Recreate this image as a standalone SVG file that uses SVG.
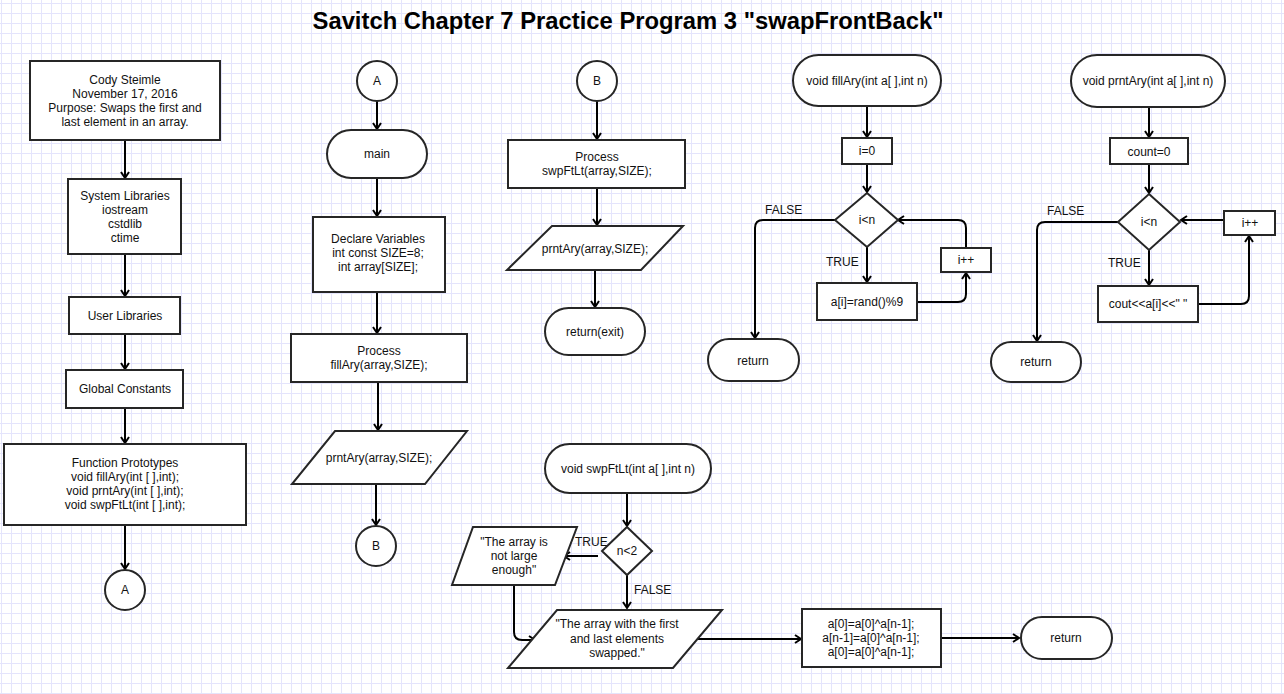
<svg xmlns="http://www.w3.org/2000/svg" width="1284" height="694" viewBox="0 0 1284 694">
<defs>
<pattern id="grid" patternUnits="userSpaceOnUse" x="1" y="3" width="10" height="10">
<rect x="0" y="0" width="10" height="1" fill="#e4e4fc"/>
<rect x="0" y="0" width="1" height="10" fill="#e4e4fc"/>
</pattern>
<marker id="arr" viewBox="0 0 10 10" refX="8" refY="5" markerWidth="10" markerHeight="10" markerUnits="userSpaceOnUse" orient="auto">
<path d="M2,1 L8,5 L2,9" fill="none" stroke="#000" stroke-width="2"/>
</marker>
<style>
.s{fill:#fff;stroke:#262626;stroke-width:2}
.t{font-family:"Liberation Sans",Arial,sans-serif;font-size:12px;fill:#111;text-anchor:middle}
.l{font-family:"Liberation Sans",Arial,sans-serif;font-size:12px;fill:#111}
.c{fill:none;stroke:#000;stroke-width:2;marker-end:url(#arr)}
</style>
</defs>
<rect width="1284" height="694" fill="#fff"/>
<rect width="1284" height="694" fill="url(#grid)"/>
<text x="628" y="29" font-family="Liberation Sans,Arial,sans-serif" font-size="23.8" font-weight="bold" text-anchor="middle" fill="#000">Savitch Chapter 7 Practice Program 3 "swapFrontBack"</text>

<g id="connectors">
<path class="c" d="M125,140 V178"/>
<path class="c" d="M125,254 V296"/>
<path class="c" d="M125,334 V369"/>
<path class="c" d="M125,408 V443"/>
<path class="c" d="M125,525 V569"/>
<path class="c" d="M377,101 V129"/>
<path class="c" d="M377,178 V216"/>
<path class="c" d="M377,292 V333"/>
<path class="c" d="M378,382 V430"/>
<path class="c" d="M376,484 V525"/>
<path class="c" d="M597,101 V139"/>
<path class="c" d="M597,188 V225"/>
<path class="c" d="M595,270 V307"/>
<path class="c" d="M867,106 V137"/>
<path class="c" d="M867,164 V192"/>
<path class="c" d="M867,247 V282"/>
<path class="c" d="M835,220 H763 Q755,220 755,228 V338"/>
<path class="c" d="M917,302 H958 Q966,302 966,294 V273"/>
<path class="c" d="M966,248 V228 Q966,220 958,220 H898"/>
<path class="c" d="M1149,107 V137"/>
<path class="c" d="M1149,164 V193"/>
<path class="c" d="M1149,250 V285"/>
<path class="c" d="M1118,222 H1045 Q1037,222 1037,230 V341"/>
<path class="c" d="M1198,304 H1241 Q1249,304 1249,296 V236"/>
<path class="c" d="M1224,220 H1181"/>
<path class="c" d="M627,493 V526"/>
<path class="c" d="M598,556 H564"/>
<path class="c" d="M627,575 V608"/>
<path class="c" d="M514,585 V632 Q514,640 522,640 H535"/>
<path class="c" d="M698,639 H801"/>
<path class="c" d="M941,638 H1019"/>
<text class="l" x="765" y="214">FALSE</text>
<text class="l" x="826" y="266">TRUE</text>
<text class="l" x="1047" y="215">FALSE</text>
<text class="l" x="1108" y="267">TRUE</text>
<text class="l" x="575" y="546">TRUE</text>
<text class="l" x="634" y="594">FALSE</text>
</g>

<g id="header">
<rect class="s" x="30" y="61" width="190" height="79"/>
<text class="t" x="125" y="84">Cody Steimle</text>
<text class="t" x="125" y="98">November 17, 2016</text>
<text class="t" x="125" y="112">Purpose: Swaps the first and</text>
<text class="t" x="125" y="126">last element in an array.</text>
</g>
<g id="syslib">
<rect class="s" x="68" y="179" width="113" height="75"/>
<text class="t" x="125" y="200">System Libraries</text>
<text class="t" x="125" y="214">iostream</text>
<text class="t" x="125" y="228">cstdlib</text>
<text class="t" x="125" y="242">ctime</text>
</g>
<g id="userlib">
<rect class="s" x="69" y="297" width="111" height="37"/>
<text class="t" x="125" y="320">User Libraries</text>
</g>
<g id="globals">
<rect class="s" x="66" y="370" width="117" height="38"/>
<text class="t" x="125" y="393">Global Constants</text>
</g>
<g id="protos">
<rect class="s" x="4" y="444" width="242" height="81"/>
<text class="t" x="125" y="467">Function Prototypes</text>
<text class="t" x="125" y="481">void fillAry(int [ ],int);</text>
<text class="t" x="125" y="495">void prntAry(int [ ],int);</text>
<text class="t" x="125" y="509">void swpFtLt(int [ ],int);</text>
</g>
<g id="A1">
<circle class="s" cx="125" cy="590" r="20"/>
<text class="t" x="125" y="594">A</text>
</g>

<g id="A2">
<circle class="s" cx="377" cy="81" r="20"/>
<text class="t" x="377" y="85">A</text>
</g>
<g id="main">
<rect class="s" x="327" y="130" width="100" height="48" rx="24"/>
<text class="t" x="377" y="158">main</text>
</g>
<g id="declare">
<rect class="s" x="313" y="217" width="132" height="75"/>
<text class="t" x="378" y="243">Declare Variables</text>
<text class="t" x="378" y="257">int const SIZE=8;</text>
<text class="t" x="378" y="271">int array[SIZE];</text>
</g>
<g id="procFill">
<rect class="s" x="291" y="334" width="176" height="48"/>
<text class="t" x="379" y="355">Process</text>
<text class="t" x="379" y="369">fillAry(array,SIZE);</text>
</g>
<g id="print1">
<polygon class="s" points="335,431 467,431 425,484 292,484"/>
<text class="t" x="379" y="462">prntAry(array,SIZE);</text>
</g>
<g id="B1">
<circle class="s" cx="376" cy="546" r="20"/>
<text class="t" x="376" y="550">B</text>
</g>

<g id="B2">
<circle class="s" cx="597" cy="81" r="20"/>
<text class="t" x="597" y="85">B</text>
</g>
<g id="procSwap">
<rect class="s" x="508" y="140" width="177" height="48"/>
<text class="t" x="597" y="161">Process</text>
<text class="t" x="597" y="175">swpFtLt(array,SIZE);</text>
</g>
<g id="print2">
<polygon class="s" points="552,226 683,226 641,270 507,270"/>
<text class="t" x="595" y="253">prntAry(array,SIZE);</text>
</g>
<g id="exit">
<rect class="s" x="545" y="308" width="100" height="47" rx="23.5"/>
<text class="t" x="595" y="336">return(exit)</text>
</g>

<g id="fillAry">
<rect class="s" x="793" y="55" width="148" height="51" rx="25.5"/>
<text class="t" x="867" y="85">void fillAry(int a[ ],int n)</text>
</g>
<g id="i0">
<rect class="s" x="842" y="138" width="50" height="26"/>
<text class="t" x="867" y="155">i=0</text>
</g>
<g id="cond1">
<polygon class="s" points="867,193 898,220 867,247 835,220"/>
<text class="t" x="867" y="224">i&lt;n</text>
</g>
<g id="rand">
<rect class="s" x="817" y="283" width="100" height="37"/>
<text class="t" x="867" y="306">a[i]=rand()%9</text>
</g>
<g id="inc1">
<rect class="s" x="941" y="248" width="50" height="24"/>
<text class="t" x="966" y="264">i++</text>
</g>
<g id="ret1">
<rect class="s" x="708" y="339" width="91" height="42" rx="21"/>
<text class="t" x="753" y="365">return</text>
</g>

<g id="prntAry">
<rect class="s" x="1071" y="55" width="154" height="52" rx="26"/>
<text class="t" x="1148" y="85">void prntAry(int a[ ],int n)</text>
</g>
<g id="count0">
<rect class="s" x="1110" y="138" width="78" height="26"/>
<text class="t" x="1149" y="156">count=0</text>
</g>
<g id="cond2">
<polygon class="s" points="1149,194 1180,222 1149,250 1118,222"/>
<text class="t" x="1149" y="226">i&lt;n</text>
</g>
<g id="cout">
<rect class="s" x="1098" y="286" width="100" height="36"/>
<text class="t" x="1148" y="308">cout&lt;&lt;a[i]&lt;&lt;" "</text>
</g>
<g id="inc2">
<rect class="s" x="1224" y="211" width="51" height="24"/>
<text class="t" x="1250" y="227">i++</text>
</g>
<g id="ret2">
<rect class="s" x="991" y="342" width="90" height="40" rx="20"/>
<text class="t" x="1036" y="366">return</text>
</g>

<g id="swpFtLt">
<rect class="s" x="545" y="444" width="166" height="49" rx="24.5"/>
<text class="t" x="628" y="473">void swpFtLt(int a[ ],int n)</text>
</g>
<g id="cond3">
<polygon class="s" points="627,527 652,551 627,575 602,551"/>
<text class="t" x="627" y="555">n&lt;2</text>
</g>
<g id="small">
<polygon class="s" points="473,527 577,527 555,585 452,585"/>
<text class="t" x="514" y="546">"The array is</text>
<text class="t" x="514" y="560">not large</text>
<text class="t" x="514" y="574">enough"</text>
</g>
<g id="swapped">
<polygon class="s" points="557,610 722,610 673,668 508,668"/>
<text class="t" x="617" y="628">"The array with the first</text>
<text class="t" x="617" y="643">and last elements</text>
<text class="t" x="617" y="657">swapped."</text>
</g>
<g id="xor">
<rect class="s" x="802" y="609" width="139" height="58"/>
<text class="t" x="871" y="628">a[0]=a[0]^a[n-1];</text>
<text class="t" x="871" y="642">a[n-1]=a[0]^a[n-1];</text>
<text class="t" x="871" y="656">a[0]=a[0]^a[n-1];</text>
</g>
<g id="ret3">
<rect class="s" x="1021" y="617" width="91" height="42" rx="21"/>
<text class="t" x="1066" y="642">return</text>
</g>
</svg>
